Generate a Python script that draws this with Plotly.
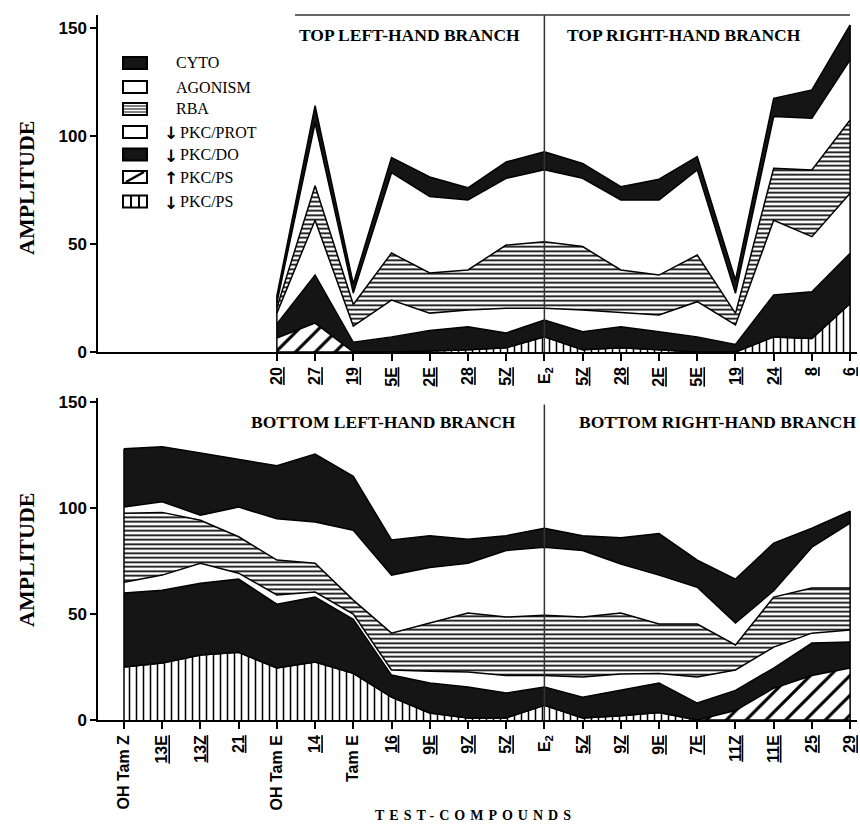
import plotly.graph_objects as go

W, H = 860, 829
ML, MR, MT, MB = 98, 3, 15, 109

# ---------------- categories / tick labels ----------------
bottom_labels = ["OH Tam Z", "13E", "13Z", "21", "OH Tam E", "14", "Tam E", "16", "9E", "9Z",
                 "5Z", "E2", "5Z", "9Z", "9E", "7E", "11Z", "11E", "25", "29"]
top_labels = ["20", "27", "19", "5E", "2E", "28", "5Z", "E2", "5Z", "28", "2E", "5E", "19", "24", "8", "6"]
bottom_pos = list(range(0, 20))
top_pos = list(range(4, 20))
plain_labels = {"OH Tam Z", "OH Tam E", "Tam E", "E2"}

# ---------------- TOP panel: cumulative upper boundaries of each layer ----------------
top_ps_down = [0, 0, 0, 0, 0.5, 1, 2, 7, 1, 2, 1, 0, 0, 7, 6.3, 22.5]
top_ps_up   = [6.5, 13.4, 0, 0, 0.5, 1, 2, 7, 1, 2, 1, 0, 0, 7, 6.3, 22.5]
top_do      = [13, 35.6, 4.5, 7, 10, 11.7, 8.8, 14.8, 9.4, 11.7, 9.4, 7, 3.5, 26.4, 27.9, 45.7]
top_prot    = [18, 61, 12, 24, 18, 19.4, 20.3, 20.3, 19.4, 18.2, 17.1, 23.3, 12.5, 61, 53.4, 73.5]
top_rba     = [20.5, 77, 22, 45.8, 36.6, 38, 49.5, 51, 48.8, 38, 35.6, 44.9, 17.9, 85, 84.3, 107.4]
top_agon    = [22.7, 106, 27.3, 83, 72, 70.4, 80.4, 84.3, 80.4, 70.4, 70.4, 84.3, 27.2, 109, 108.2, 135.2]
top_cyto    = [26, 114, 31.5, 90, 81, 76, 88, 92.7, 87.3, 76.5, 80, 90.4, 33.3, 117.4, 121.3, 151.4]

# ---------------- BOTTOM panel ----------------
bot_ps_down = [25, 26.9, 30.7, 32, 24.5, 27.4, 22, 10.8, 3.3, 1, 1, 7, 1, 2, 3.5, 0, 0, 0, 0, 0]
bot_ps_up   = [25, 26.9, 30.7, 32, 24.5, 27.4, 22, 10.8, 3.3, 1, 1, 7, 1, 2, 3.5, 0, 4.5, 15, 21, 24.5]
bot_do      = [60, 61.3, 64.6, 66.5, 54.7, 58, 47.5, 21.2, 17.5, 15.6, 12.7, 15.6, 10.8, 14, 17.5, 8, 14, 24.5, 36.3, 36.8]
bot_prot    = [65, 68.4, 74, 69.3, 59, 60.4, 50, 23.6, 23, 22.6, 21, 21, 20.3, 21.7, 22, 20.3, 23.6, 34.4, 41, 42.5]
bot_rba     = [97.6, 98, 94.3, 86.5, 75.5, 74, 56.6, 41, 45.8, 50.5, 48.6, 49.5, 48.6, 50.5, 45.3, 45.3, 35.4, 58, 62.3, 62.3]
bot_agon    = [100.5, 103, 96.7, 100.5, 95, 93.5, 89.6, 68.4, 72, 74, 80, 81.6, 80, 73.6, 68.4, 62.7, 45.8, 61, 81.6, 92.9]
bot_cyto    = [128, 129, 126, 123, 120, 125.5, 115, 85, 87, 85.3, 87, 90.5, 87, 86, 88, 75.5, 66.5, 83.5, 90.5, 98.6]

BLACK = "#151515"
LINE = dict(color="black", width=1.5)


def layer_specs():
    return [
        ("PKC/PS down", dict(fillcolor="white",
                             fillpattern=dict(shape="|", fgcolor="black", bgcolor="white",
                                              size=7, solidity=0.22, fillmode="replace"))),
        ("PKC/PS up", dict(fillcolor="white",
                           fillpattern=dict(shape="/", fgcolor="black", bgcolor="white",
                                            size=14, solidity=0.22, fillmode="replace"))),
        ("PKC/DO", dict(fillcolor=BLACK)),
        ("PKC/PROT", dict(fillcolor="white")),
        ("RBA", dict(fillcolor="white",
                     fillpattern=dict(shape="-", fgcolor="black", bgcolor="white",
                                      size=4.5, solidity=0.38, fillmode="replace"))),
        ("AGONISM", dict(fillcolor="white")),
        ("CYTO", dict(fillcolor=BLACK)),
    ]


fig = go.Figure()

top_series = [top_ps_down, top_ps_up, top_do, top_prot, top_rba, top_agon, top_cyto]
bot_series = [bot_ps_down, bot_ps_up, bot_do, bot_prot, bot_rba, bot_agon, bot_cyto]

for (xs, series, xa, ya) in [(top_pos, top_series, "x", "y"), (bottom_pos, bot_series, "x2", "y2")]:
    for i, ((name, style), ys) in enumerate(zip(layer_specs(), series)):
        fig.add_trace(go.Scatter(
            x=xs, y=ys, mode="lines", name=name, line=LINE,
            fill="tozeroy" if i == 0 else "tonexty",
            xaxis=xa, yaxis=ya, showlegend=False, hoverinfo="skip", **style))


def fmt(lbl):
    if lbl == "E2":
        return "E<sub>2</sub>"
    if lbl in plain_labels:
        return lbl
    return '<span style="text-decoration:underline">' + lbl + "</span>"


tickfont = dict(family="Liberation Sans", size=16, color="black", weight="bold")
ytickfont = dict(family="Liberation Sans", size=17, color="black", weight="bold")
xcommon = dict(range=[-0.68, 19.18], showgrid=False, zeroline=False, showline=True,
               linecolor="black", linewidth=1.5, ticks="outside", ticklen=7, tickwidth=1.5,
               tickcolor="black", tickangle=-90, tickfont=tickfont)
ycommon = dict(showgrid=False, zeroline=False, showline=True, linecolor="black", linewidth=1.5,
               ticks="outside", ticklen=6, tickwidth=1.5, tickcolor="black",
               tickvals=[0, 50, 100, 150], tickfont=ytickfont)

plot_h = H - MT - MB
plot_w = W - ML - MR


def pxx(x):
    return (x - ML) / plot_w


def pyy(y):
    return (H - MB - y) / plot_h


fig.update_layout(
    width=W, height=H, margin=dict(l=ML, r=MR, t=MT, b=MB),
    paper_bgcolor="white", plot_bgcolor="white", showlegend=False,
    xaxis=dict(anchor="y", tickvals=top_pos, ticktext=[fmt(l) for l in top_labels], **xcommon),
    yaxis=dict(domain=[pyy(352), 1.0], range=[0, 156], anchor="x", **ycommon),
    xaxis2=dict(anchor="y2", tickvals=bottom_pos, ticktext=[fmt(l) for l in bottom_labels], **xcommon),
    yaxis2=dict(domain=[0, pyy(398)], range=[0, 152], anchor="x2", **ycommon),
)

shapes = []
# E2 divider lines
e2_top = top_pos[top_labels.index("E2")]
e2_bot = bottom_pos[bottom_labels.index("E2")]
shapes.append(dict(type="line", xref="x", yref="y domain", x0=e2_top, x1=e2_top, y0=0, y1=1,
                   line=dict(color="#333", width=1.5)))
shapes.append(dict(type="line", xref="x2", yref="y2 domain", x0=e2_bot, x1=e2_bot, y0=0, y1=0.98,
                   line=dict(color="#333", width=1.5)))
# top frame line of upper panel
shapes.append(dict(type="line", xref="paper", yref="paper", x0=pxx(295), x1=pxx(850), y0=1, y1=1,
                   line=dict(color="#333", width=1.5)))
# vertical edges of stacked areas
for xs, tot, xa, ya in [(top_pos, top_cyto, "x", "y"), (bottom_pos, bot_cyto, "x2", "y2")]:
    for k in (0, -1):
        shapes.append(dict(type="line", xref=xa, yref=ya, x0=xs[k], x1=xs[k], y0=0, y1=tot[k],
                           line=dict(color="black", width=1.5)))

# legend symbols
leg_items = [("CYTO", 63, "black"), ("AGONISM", 87, "white"), ("RBA", 109, "rba"),
             ("PKC/PROT", 132, "white", "↓"), ("PKC/DO", 154.5, "black", "↓"),
             ("PKC/PS", 177, "diag", "↑"), ("PKC/PS", 201.5, "vert", "↓")]
annotations = []
lx0, lx1 = 123, 147
leg_font = dict(family="Liberation Serif", size=16, color="black")
for item in leg_items:
    text, yc, kind = item[:3]
    arrow = item[3] if len(item) > 3 else None
    y0, y1 = yc - 6, yc + 6
    fillc = BLACK if kind == "black" else "white"
    shapes.append(dict(type="rect", xref="paper", yref="paper", x0=pxx(lx0), x1=pxx(lx1),
                       y0=pyy(y1), y1=pyy(y0), fillcolor=fillc, line=dict(color="black", width=2)))
    if kind == "rba":
        for yy in (yc - 3, yc, yc + 3):
            shapes.append(dict(type="line", xref="paper", yref="paper", x0=pxx(lx0), x1=pxx(lx1),
                               y0=pyy(yy), y1=pyy(yy), line=dict(color="black", width=1)))
    if kind == "diag":
        shapes.append(dict(type="line", xref="paper", yref="paper", x0=pxx(lx0 + 3), x1=pxx(lx1 - 3),
                           y0=pyy(y1 - 1), y1=pyy(y0 + 1), line=dict(color="black", width=2.5)))
    if kind == "vert":
        for xx in (lx0 + 8, lx1 - 8):
            shapes.append(dict(type="line", xref="paper", yref="paper", x0=pxx(xx), x1=pxx(xx),
                               y0=pyy(y1), y1=pyy(y0), line=dict(color="black", width=2)))
    if arrow:
        annotations.append(dict(xref="paper", yref="paper", x=pxx(171), y=pyy(yc + 1), text="<b>" + arrow + "</b>",
                                showarrow=False, xanchor="center", yanchor="middle",
                                font=dict(family="DejaVu Sans", size=17, color="black")))
        tx = 178
    else:
        tx = 174
    annotations.append(dict(xref="paper", yref="paper", x=pxx(tx), y=pyy(yc), text=text,
                            showarrow=False, xanchor="left", yanchor="middle", font=leg_font))

title_font = dict(family="Liberation Serif", size=17.5, color="black", weight="bold")
for text, x, y in [("TOP LEFT-HAND BRANCH", 409, 35), ("TOP RIGHT-HAND BRANCH", 684, 35),
                   ("BOTTOM LEFT-HAND BRANCH", 383, 422), ("BOTTOM RIGHT-HAND BRANCH", 718, 422)]:
    annotations.append(dict(xref="paper", yref="paper", x=pxx(x), y=pyy(y), text=text,
                            showarrow=False, xanchor="center", yanchor="middle", font=title_font))

for y in (188, 560):
    annotations.append(dict(xref="paper", yref="paper", x=pxx(26), y=pyy(y), text="AMPLITUDE",
                            textangle=-90, showarrow=False, xanchor="center", yanchor="middle",
                            font=dict(family="Liberation Serif", size=22, color="black", weight="bold")))

annotations.append(dict(xref="paper", yref="paper", x=pxx(475), y=pyy(815),
                        text='<span style="letter-spacing:5px">TEST-COMPOUNDS</span>',
                        showarrow=False, xanchor="center", yanchor="middle",
                        font=dict(family="Liberation Serif", size=14, color="black", weight="bold")))

fig.update_layout(shapes=shapes, annotations=annotations)
fig.write_html("out.html")
